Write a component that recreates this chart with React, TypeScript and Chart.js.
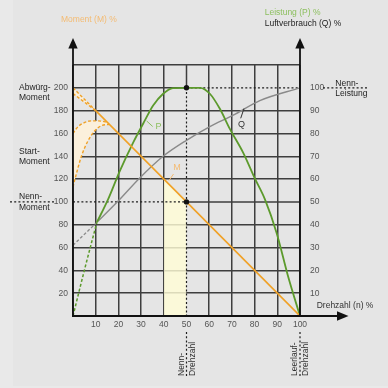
import React, { useEffect, useRef } from "react";
import { Chart, registerables } from "chart.js";

Chart.register(...registerables);

// ---- data (speed n in %, torque M in %, power P in %, air consumption Q in %) ----
const xTickLabels = [10, 20, 30, 40, 50, 60, 70, 80, 90, 100];
const momentTickLabels = [20, 40, 60, 80, 100, 120, 140, 160, 180, 200];
const powerTickLabels = [10, 20, 30, 40, 50, 60, 70, 80, 90, 100];

const torqueN = [10, 100];
const torqueM = [180, 0];

const ratedBandN = [40, 50];
const ratedBandM = [120, 100];

const stallUpperN = [0, 10];
const stallUpperM = [200, 180];
const stallLowerN = [0, 10];
const stallLowerM = [195, 180];

const startUpperN = [0, 2, 5, 8, 11, 15];
const startUpperM = [160, 165.5, 169.5, 171, 171, 170];
const startLowerN = [0, 1, 3.7, 6.6, 9.6, 12.5, 16];
const startLowerM = [113, 121, 140, 153.5, 162.3, 166.8, 168];

const powerStartN = [0, 5, 10.5];
const powerStartP = [0, 20, 41];
const powerN = [10.5, 15.4, 20.6, 26.5, 31.6, 35.3, 39.7, 44, 50, 56, 60.3, 64.7, 69.1, 75, 80, 84.6, 89.7, 94.8, 100];
const powerP = [41, 51, 63.5, 76, 85.6, 92.2, 97.4, 99.9, 100, 100, 97.4, 90.8, 82, 71.5, 60.5, 51, 36.4, 17.2, 0];

const airStartN = [0, 11];
const airStartQ = [31, 41.5];
const airN = [11, 20, 29.4, 39.7, 50, 60.3, 70.6, 82.3, 100];
const airQ = [41.5, 50.5, 60.5, 70, 77, 83, 88, 94.4, 100];

const ratedSpeed = 50;
const idleSpeed = 100;
const ratedMoment = 100;
const stallMoment = 200;
const ratedPower = 100;
const gridTopMoment = 220;

// ---- styles ----
const FONT = "'Liberation Sans', Arial, sans-serif";
const ORANGE = "#f0a126";
const ORANGE_LIGHT = "#f4bb72";
const GREEN = "#5c9a2c";
const GREEN_LIGHT = "#8cbf5e";
const GRAY = "#8a8a8a";
const GRID = "#3e3e3e";
const INK = "#1e1e1e";
const TICK = "#555555";

const pts = (xs: number[], ys: number[]) => xs.map((x, i) => ({ x, y: ys[i] }));

function seg(ctx: CanvasRenderingContext2D, x1: number, y1: number, x2: number, y2: number, color: string, w: number, dash: number[] = []) {
  ctx.save();
  ctx.strokeStyle = color;
  ctx.lineWidth = w;
  ctx.setLineDash(dash);
  ctx.beginPath();
  ctx.moveTo(x1, y1);
  ctx.lineTo(x2, y2);
  ctx.stroke();
  ctx.restore();
}

function txt(ctx: CanvasRenderingContext2D, s: string, x: number, y: number, color: string, align: CanvasTextAlign = "left", size = 8.5) {
  ctx.save();
  ctx.fillStyle = color;
  ctx.textAlign = align;
  ctx.textBaseline = "middle";
  ctx.font = `${size}px ${FONT}`;
  ctx.fillText(s, x, y);
  ctx.restore();
}

function tri(ctx: CanvasRenderingContext2D, p: number[][]) {
  ctx.save();
  ctx.fillStyle = "#111";
  ctx.beginPath();
  ctx.moveTo(p[0][0], p[0][1]);
  ctx.lineTo(p[1][0], p[1][1]);
  ctx.lineTo(p[2][0], p[2][1]);
  ctx.closePath();
  ctx.fill();
  ctx.restore();
}

const DOT = [2, 2.2];

const decor = {
  id: "decor",
  beforeDraw(chart: any) {
    const ctx = chart.ctx as CanvasRenderingContext2D;
    ctx.save();
    ctx.fillStyle = "#e9e9e9";
    ctx.fillRect(0, 0, chart.width, chart.height);
    ctx.fillStyle = "#e5e5e5";
    ctx.fillRect(13, 0, chart.width - 13, 386);
    ctx.restore();
  },
  beforeDatasetsDraw(chart: any) {
    const ctx = chart.ctx as CanvasRenderingContext2D;
    const { x, y, y1 } = chart.scales;
    const a = chart.chartArea;
    const xR = x.getPixelForValue(ratedSpeed);
    const xI = x.getPixelForValue(idleSpeed);
    const yRM = y.getPixelForValue(ratedMoment);
    const yRP = y1.getPixelForValue(ratedPower);
    const ySM = y.getPixelForValue(stallMoment);
    const yTop = y.getPixelForValue(gridTopMoment);
    // solid parts of the grid lines that are partly dotted
    seg(ctx, xR, yRM, a.right, yRM, GRID, 1.5);
    seg(ctx, a.left, ySM, xR, ySM, GRID, 1.5);
    seg(ctx, xR, yTop, xR, yRP, GRID, 1.5);
    // dotted reference lines
    seg(ctx, 10, yRM, 55, yRM, INK, 1.2, DOT);
    seg(ctx, a.left, yRM, xR, yRM, INK, 1.2, DOT);
    seg(ctx, xR, yRP, a.right, yRP, INK, 1.2, DOT);
    seg(ctx, 323, yRP, 368, yRP, INK, 1.2, DOT);
    seg(ctx, xR, yRP, xR, a.bottom, INK, 1.2, DOT);
    seg(ctx, xR, a.bottom + 16, xR, 376, INK, 1.2, DOT);
    seg(ctx, xI, a.bottom + 16, xI, 376, INK, 1.2, DOT);
  },
  afterDraw(chart: any) {
    const ctx = chart.ctx as CanvasRenderingContext2D;
    const { x, y } = chart.scales;
    const a = chart.chartArea;
    // axes
    seg(ctx, a.left, 46, a.left, a.bottom + 1, "#111", 1.8);
    seg(ctx, a.right, 46, a.right, a.bottom + 1, "#111", 1.8);
    seg(ctx, a.left - 1, a.bottom, 338, a.bottom, "#111", 1.8);
    tri(ctx, [[a.left, 38], [a.left - 4.7, 48.5], [a.left + 4.7, 48.5]]);
    tri(ctx, [[a.right, 38], [a.right - 4.7, 48.5], [a.right + 4.7, 48.5]]);
    tri(ctx, [[348.5, a.bottom], [337, a.bottom - 4.7], [337, a.bottom + 4.7]]);

    // axis titles
    txt(ctx, "Moment (M) %", 61, 20, ORANGE_LIGHT);
    txt(ctx, "Leistung (P) %", 264.7, 12.7, GREEN_LIGHT);
    txt(ctx, "Luftverbrauch (Q) %", 264.7, 23.3, INK);
    txt(ctx, "Drehzahl (n) %", 316.7, 306, "#333");

    // left labels
    const ySM = y.getPixelForValue(stallMoment);
    const yRM = y.getPixelForValue(ratedMoment);
    txt(ctx, "Abwürg-", 19, ySM, INK);
    txt(ctx, "Moment", 19, ySM + 10, INK);
    txt(ctx, "Start-", 19, 151.7, INK);
    txt(ctx, "Moment", 19, 161.7, INK);
    txt(ctx, "Nenn-", 19, yRM - 5, INK);
    txt(ctx, "Moment", 19, yRM + 6, INK);
    // right labels
    txt(ctx, "Nenn-", 335.3, ySM - 4, INK);
    txt(ctx, "Leistung", 335.3, ySM + 6, INK);

    // rotated speed labels
    const rot = (s: string, px: number) => {
      ctx.save();
      ctx.translate(px, 376);
      ctx.rotate(-Math.PI / 2);
      txt(ctx, s, 0, 0, "#333");
      ctx.restore();
    };
    const xR = x.getPixelForValue(ratedSpeed);
    const xI = x.getPixelForValue(idleSpeed);
    rot("Nenn-", xR - 5);
    rot("Drehzahl", xR + 6);
    rot("Leerlauf-", xI - 5);
    rot("Drehzahl", xI + 5.5);

    // curve labels with leaders
    seg(ctx, 146.7, 121, 152.7, 126.5, GREEN_LIGHT, 1);
    txt(ctx, "P", 158.5, 126.5, GREEN_LIGHT, "center", 9);
    seg(ctx, 244, 108.5, 240.7, 118.3, "#333", 1);
    txt(ctx, "Q", 241.5, 125, "#333", "center", 9);
    seg(ctx, 173.5, 174, 169, 180.5, ORANGE_LIGHT, 1);
    txt(ctx, "M", 177, 168, ORANGE_LIGHT, "center", 9);
  },
};

const tickFont = { family: FONT, size: 8.5 };

export default function App() {
  const ref = useRef<HTMLCanvasElement>(null);

  useEffect(() => {
    if (!ref.current) return;
    const lineBase = { pointRadius: 0, pointHoverRadius: 0, fill: false };
    const chart = new Chart(ref.current, {
      type: "line",
      data: {
        datasets: [
          { ...lineBase, data: pts([ratedSpeed], [ratedMoment]), yAxisID: "y", showLine: false, pointRadius: 2.7, pointBackgroundColor: "#111", pointBorderWidth: 0 } as any,
          { ...lineBase, data: pts([ratedSpeed], [ratedPower]), yAxisID: "y1", showLine: false, pointRadius: 2.7, pointBackgroundColor: "#111", pointBorderWidth: 0 } as any,
          { ...lineBase, data: pts(torqueN, torqueM), yAxisID: "y", borderColor: ORANGE, borderWidth: 1.6 },
          { ...lineBase, data: pts(powerN, powerP), yAxisID: "y1", borderColor: GREEN, borderWidth: 1.8, cubicInterpolationMode: "monotone" },
          { ...lineBase, data: pts(powerStartN, powerStartP), yAxisID: "y1", borderColor: GREEN, borderWidth: 1.5, borderDash: [3, 2], cubicInterpolationMode: "monotone" },
          { ...lineBase, data: pts(airN, airQ), yAxisID: "y1", borderColor: GRAY, borderWidth: 1.4, cubicInterpolationMode: "monotone" },
          { ...lineBase, data: pts(airStartN, airStartQ), yAxisID: "y1", borderColor: GRAY, borderWidth: 1.3, borderDash: [3, 2] },
          { ...lineBase, data: pts(stallUpperN, stallUpperM), yAxisID: "y", borderColor: ORANGE, borderWidth: 1.4, borderDash: [3, 2], fill: "+1", backgroundColor: "#fbf0dc" },
          { ...lineBase, data: pts(stallLowerN, stallLowerM), yAxisID: "y", borderColor: ORANGE, borderWidth: 1.4, borderDash: [3, 2] },
          { ...lineBase, data: pts(startUpperN, startUpperM), yAxisID: "y", borderColor: ORANGE, borderWidth: 1.4, borderDash: [3, 2], cubicInterpolationMode: "monotone", fill: "+1", backgroundColor: "#fbf0dc" },
          { ...lineBase, data: pts(startLowerN, startLowerM), yAxisID: "y", borderColor: ORANGE, borderWidth: 1.4, borderDash: [3, 2], cubicInterpolationMode: "monotone" },
          { ...lineBase, data: pts(ratedBandN, ratedBandM), yAxisID: "y", borderWidth: 0, borderColor: "rgba(0,0,0,0)", fill: "origin", backgroundColor: "rgba(255,252,214,0.82)" },
        ],
      },
      options: {
        animation: false,
        responsive: false,
        devicePixelRatio: 1,
        events: [],
        layout: { padding: { top: 65, left: 0, right: 0, bottom: 0 } },
        plugins: {
          legend: { display: false },
          tooltip: { enabled: false },
          filler: { drawTime: "beforeDatasetsDraw" },
        },
        scales: {
          x: {
            type: "linear",
            min: 0,
            max: 100,
            border: { display: false },
            grid: {
              color: (c: any) => (c.tick && c.tick.value === ratedSpeed ? "rgba(0,0,0,0)" : GRID),
              lineWidth: 1.5,
              drawTicks: false,
            },
            ticks: {
              stepSize: 10,
              autoSkip: false,
              maxRotation: 0,
              padding: 4,
              color: TICK,
              font: tickFont,
              callback: (v: any) => (xTickLabels.includes(Number(v)) ? String(v) : ""),
            },
            afterFit: (s: any) => {
              s.height = 72;
            },
          },
          y: {
            type: "linear",
            position: "left",
            min: 0,
            max: gridTopMoment,
            border: { display: false },
            grid: {
              color: (c: any) =>
                c.tick && (c.tick.value === ratedMoment || c.tick.value === stallMoment) ? "rgba(0,0,0,0)" : GRID,
              lineWidth: 1.5,
              drawTicks: false,
            },
            ticks: {
              stepSize: 20,
              autoSkip: false,
              padding: 5,
              color: TICK,
              font: tickFont,
              callback: (v: any) => (momentTickLabels.includes(Number(v)) ? String(v) : ""),
            },
            afterFit: (s: any) => {
              s.width = 73;
            },
          },
          y1: {
            type: "linear",
            position: "right",
            min: 0,
            max: 110,
            border: { display: false },
            grid: { display: false, drawTicks: false },
            ticks: {
              stepSize: 10,
              autoSkip: false,
              padding: 10,
              color: TICK,
              font: tickFont,
              callback: (v: any) => (powerTickLabels.includes(Number(v)) ? String(v) : ""),
            },
            afterFit: (s: any) => {
              s.width = 88;
            },
          },
        },
      } as any,
      plugins: [decor],
    });
    return () => chart.destroy();
  }, []);

  return (
    <div style={{ position: "fixed", left: 0, top: 0, width: 388, height: 388, background: "#e5e5e5" }}>
      <canvas ref={ref} width={388} height={388} style={{ width: 388, height: 388, display: "block" }} />
    </div>
  );
}
